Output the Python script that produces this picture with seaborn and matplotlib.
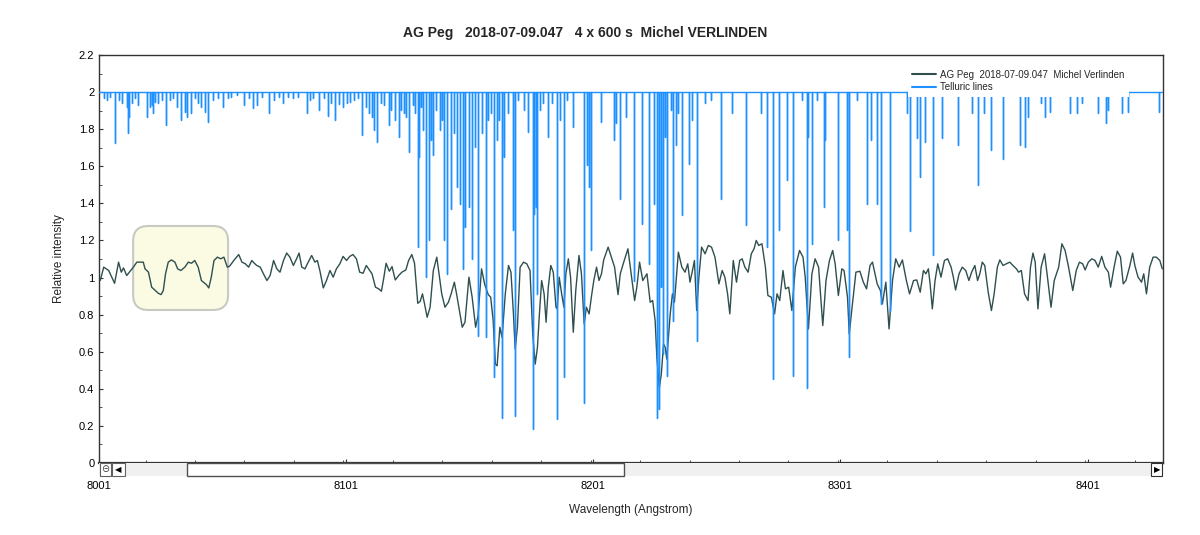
import numpy as np
import matplotlib
matplotlib.use("Agg")
import matplotlib.pyplot as plt
import seaborn as sns
from matplotlib.patches import FancyBboxPatch, Rectangle
from matplotlib.lines import Line2D
from matplotlib.ticker import MultipleLocator, FuncFormatter

# ------------------ DATA ------------------
# AG Peg spectrum (wavelength in Angstrom, relative intensity)
star_wl = [
    8001.7, 8003.1, 8005.1, 8007.5, 8009.1, 8010.2, 8011.1, 8012.4, 8015.1, 8016.5,
    8019.1, 8019.8, 8021.2, 8022.5, 8025.2, 8026.3, 8027.2, 8028.1, 8029.2, 8030.5,
    8031.9, 8033.0, 8034.3, 8035.9, 8037.3, 8038.6, 8039.9, 8041.3, 8042.6, 8044.6,
    8045.6, 8046.6, 8047.7, 8049.1, 8050.4, 8051.7, 8053.1, 8054.0,
    8055.7, 8057.7, 8059.0, 8060.4, 8061.7, 8063.0, 8064.0, 8065.0, 8066.4, 8067.7,
    8069.1, 8070.4, 8071.8, 8073.1, 8074.4, 8075.8, 8077.1, 8078.4, 8079.8, 8081.1,
    8082.1, 8083.2, 8084.5, 8085.8, 8087.2, 8088.5, 8089.5, 8090.5, 8091.9, 8093.2,
    8094.6, 8095.9, 8097.2, 8098.6, 8099.9, 8101.3, 8102.6, 8103.9, 8105.3, 8106.6,
    8108.0, 8109.3,
    8111.6, 8113.0, 8114.3, 8115.4, 8116.3, 8117.3, 8118.6, 8119.7, 8121.0, 8122.4,
    8123.7, 8125.3, 8126.4, 8127.7, 8128.8, 8130.1, 8131.1, 8132.0, 8132.8, 8133.9,
    8135.1, 8136.4, 8137.8, 8138.7, 8139.8, 8141.1, 8142.5, 8143.6, 8144.9, 8145.8,
    8147.2, 8148.1, 8149.2, 8150.8, 8152.1, 8153.5, 8154.5, 8155.9, 8157.2, 8158.6,
    8159.6, 8160.6, 8161.5, 8162.2, 8163.3, 8164.2,
    8165.5, 8166.8, 8167.8, 8168.8, 8169.5, 8170.4, 8171.5, 8172.9, 8174.2, 8175.5,
    8176.6, 8177.6, 8178.5, 8179.3, 8180.2, 8181.2, 8182.0, 8182.9, 8183.9, 8184.9,
    8186.0, 8186.5, 8187.3, 8188.3, 8189.2, 8190.0, 8191.0, 8191.9, 8193.0, 8194.0,
    8195.3, 8196.3, 8197.4, 8198.3, 8199.4, 8200.4, 8201.3, 8202.4, 8203.4, 8204.4,
    8205.3, 8207.1, 8208.4, 8209.7, 8211.1, 8212.0, 8213.4, 8215.1, 8216.4, 8217.8,
    8218.7, 8219.8,
    8221.1, 8222.8, 8224.1, 8225.1, 8226.1, 8226.8, 8227.8, 8228.6, 8229.5, 8230.2,
    8230.8, 8232.2, 8233.1, 8233.9, 8234.9, 8235.5, 8236.9, 8238.2, 8239.3, 8240.2,
    8241.2, 8242.0, 8242.9, 8243.8, 8244.9, 8246.3, 8247.6, 8248.9, 8250.3, 8251.9,
    8253.2, 8254.3, 8255.4, 8256.3, 8257.7, 8259.0, 8260.3, 8261.3, 8262.4, 8263.7,
    8265.0, 8266.1, 8267.0, 8268.0, 8269.3, 8270.7, 8271.7, 8273.1, 8274.4,
    8275.4, 8276.5, 8277.8, 8278.8, 8280.1, 8281.4, 8282.8, 8284.5, 8285.9, 8286.8,
    8288.1, 8289.5, 8290.8, 8292.2, 8293.9, 8295.2, 8296.6, 8297.9, 8298.9, 8300.2,
    8301.6, 8302.5, 8303.9, 8304.6, 8305.6, 8307.3, 8308.9, 8310.3, 8311.6, 8313.0,
    8314.0, 8315.0, 8315.9, 8317.2, 8318.0, 8319.4, 8320.7, 8322.1, 8323.4, 8324.8,
    8326.1, 8327.7, 8329.0,
    8330.6, 8331.9, 8333.3, 8334.6, 8335.6, 8336.6, 8337.3, 8338.2, 8339.3, 8340.4,
    8341.7, 8343.1, 8344.4, 8345.8, 8346.7, 8347.6, 8349.0, 8350.3, 8351.7, 8353.0,
    8354.1, 8355.4, 8356.5, 8357.4, 8358.4, 8359.4, 8360.8, 8362.1, 8363.2, 8364.5,
    8365.5, 8366.8, 8368.1, 8369.5, 8370.8, 8372.2, 8373.1, 8374.2, 8375.5, 8376.9,
    8377.9, 8378.9, 8379.8, 8380.9, 8382.2, 8383.6,
    8384.6, 8386.2, 8387.5, 8389.3, 8390.6, 8391.9, 8393.3, 8395.0, 8396.4, 8397.7,
    8399.0, 8400.0, 8401.3, 8402.7, 8404.0, 8405.3, 8406.7, 8408.0, 8409.4, 8410.3,
    8411.7, 8413.0, 8414.3, 8415.4, 8416.5, 8418.1, 8419.2, 8420.1, 8421.4, 8422.8,
    8423.7, 8424.8, 8426.1, 8427.5, 8428.8, 8430.2, 8431.2,
]
star_flux = [
    0.984, 1.056, 1.038, 0.969, 1.083, 1.029, 1.052, 1.011, 1.056, 1.083,
    1.083, 1.047, 1.029, 0.948, 0.915, 0.908, 0.930, 1.020, 1.083, 1.095,
    1.083, 1.047, 1.038, 1.056, 1.083, 1.077, 1.092, 1.056, 0.984, 0.962,
    0.944, 1.002, 1.092, 1.110, 1.101, 1.110, 1.056, 1.061,
    1.092, 1.124, 1.083, 1.074, 1.056, 1.092, 1.077, 1.065, 1.056, 1.020,
    0.984, 1.011, 1.092, 1.047, 1.029, 1.092, 1.132, 1.110, 1.065, 1.101,
    1.132, 1.056, 1.047, 1.083, 1.119, 1.083, 1.092, 1.038, 0.944, 0.984,
    1.038, 1.002, 1.047, 1.074, 1.114, 1.092, 1.114, 1.124, 1.101, 1.029,
    1.023, 1.065,
    1.020, 0.948, 0.939, 0.926, 0.993, 1.077, 1.034, 1.059, 0.987, 1.011,
    1.029, 1.041, 1.092, 1.124, 1.077, 0.861, 0.872, 0.912, 0.861, 0.786,
    0.840, 1.038, 1.110, 1.020, 0.912, 0.840, 0.867, 0.912, 0.975, 0.912,
    0.804, 0.732, 0.759, 1.002, 0.894, 0.732, 0.795, 1.047, 0.962, 0.908,
    0.894, 0.768, 0.533, 0.524, 0.732, 0.677,
    0.912, 1.065, 1.029, 0.804, 0.614, 0.732, 1.056, 1.083, 1.074, 1.038,
    0.695, 0.533, 0.623, 0.804, 0.984, 0.912, 0.759, 0.948, 1.065, 1.029,
    0.840, 0.831, 1.002, 0.912, 0.840, 1.020, 1.101, 1.002, 0.705, 0.930,
    1.119, 1.020, 0.750, 0.840, 0.804, 0.903, 0.984, 1.056, 0.984, 1.020,
    1.095, 1.164, 1.110, 1.056, 0.908, 1.020, 1.083, 1.155, 1.020, 0.876,
    0.948, 1.083,
    0.984, 1.020, 0.867, 0.876, 0.768, 0.569, 0.407, 0.479, 0.641, 0.623,
    0.560, 0.804, 0.912, 0.867, 1.038, 1.137, 1.056, 1.029, 1.074, 0.975,
    1.038, 1.092, 0.822, 1.002, 1.164, 1.128, 1.173, 1.164, 1.110, 0.966,
    1.038, 1.002, 0.912, 0.804, 1.092, 0.975, 1.092, 1.101, 1.056, 1.029,
    1.128, 1.155, 1.200, 1.173, 1.182, 1.056, 0.903, 0.894, 0.804,
    0.912, 0.876, 1.038, 0.939, 0.948, 0.822, 1.056, 1.146, 1.110, 1.002,
    0.723, 1.020, 1.101, 1.056, 0.741, 0.984, 1.092, 1.146, 1.074, 0.903,
    1.047, 1.038, 0.894, 0.695, 0.822, 1.029, 1.034, 0.975, 0.939, 1.065,
    1.083, 1.020, 0.966, 0.930, 0.858, 0.975, 0.723, 0.984, 1.101, 1.056,
    1.095, 0.984, 0.912,
    0.984, 0.987, 0.921, 1.038, 1.020, 1.047, 0.966, 0.831, 0.984, 1.074,
    1.002, 1.092, 1.101, 1.056, 1.002, 0.933, 1.020, 1.056, 1.038, 0.984,
    1.029, 1.065, 0.984, 1.020, 1.083, 1.065, 0.921, 0.822, 0.912, 1.056,
    1.095, 1.065, 1.074, 1.083, 1.065, 1.047, 1.029, 1.038, 0.912, 0.876,
    1.056, 1.132, 1.083, 0.831, 1.056, 1.128,
    1.020, 0.840, 0.984, 1.056, 1.182, 1.146, 1.056, 0.930, 1.038, 1.083,
    1.074, 1.041, 1.083, 1.101, 1.092, 1.056, 1.114, 1.056, 1.029, 0.948,
    1.056, 1.142, 1.110, 0.966, 0.984, 1.065, 1.132, 1.065, 1.002, 0.975,
    1.020, 0.912, 1.056, 1.110, 1.110, 1.092, 1.047,
]

# telluric absorption lines: centre wavelength and line bottom
tell_wl = [
    8003.1, 8004.4, 8005.7, 8007.5, 8009.1, 8010.4, 8012.4, 8012.8, 8013.5, 8014.4,
    8015.8, 8017.1, 8020.5, 8021.8, 8022.5, 8023.2, 8023.8, 8025.2, 8026.5, 8028.3,
    8029.9, 8031.2, 8032.6, 8034.3, 8035.9, 8036.6, 8038.6, 8039.9, 8041.3, 8042.6,
    8044.0, 8045.3, 8047.3, 8049.3, 8051.3, 8053.3, 8054.7,
    8057.0, 8059.7, 8061.7, 8063.4, 8065.0, 8067.1, 8070.1, 8071.8, 8073.8, 8075.8,
    8077.8, 8079.8, 8081.8, 8085.2, 8086.5, 8087.8, 8090.3, 8092.1, 8094.0, 8095.2,
    8096.6, 8098.3, 8099.9, 8101.3, 8102.6, 8104.2, 8106.0, 8107.7, 8109.3, 8110.4,
    8111.6, 8112.3, 8113.6, 8115.4, 8116.3, 8118.6, 8119.4, 8120.8, 8122.4, 8123.4,
    8124.4, 8125.3, 8126.7, 8128.0, 8129.1, 8130.1, 8130.8, 8131.5, 8132.4, 8133.5,
    8134.7, 8135.5, 8136.4, 8137.4, 8139.1, 8139.8, 8140.6, 8141.8, 8143.5, 8144.9,
    8146.0, 8147.2, 8148.2, 8149.2, 8149.4, 8150.8, 8152.1, 8153.2, 8154.3, 8155.9,
    8157.5, 8158.6, 8159.9, 8161.0, 8162.3, 8163.1, 8164.2, 8165.0,
    8166.4, 8168.8, 8169.5, 8170.8, 8172.9, 8174.5, 8176.6, 8177.2, 8178.0, 8178.5,
    8179.6, 8180.6, 8182.9, 8184.3, 8186.3, 8187.6, 8189.2, 8190.3, 8193.0, 8197.4,
    8198.6, 8199.4, 8200.3, 8204.4, 8209.3, 8210.1, 8211.8, 8214.2, 8217.4,
    8220.8, 8223.7, 8225.5, 8226.8, 8227.8, 8228.6, 8229.1, 8230.2, 8230.8, 8232.6,
    8233.5, 8234.5, 8235.5, 8236.9, 8239.6, 8240.9, 8242.9, 8246.3, 8248.7, 8252.7,
    8257.3, 8263.0, 8268.8, 8271.5, 8273.8,
    8276.1, 8279.4, 8281.9, 8285.5, 8287.7, 8288.1, 8289.5, 8291.5, 8294.2, 8294.8,
    8300.2, 8303.8, 8304.6, 8307.6, 8311.6, 8313.6, 8315.9, 8317.6, 8321.0, 8327.9,
    8329.1, 8331.9, 8333.3, 8335.3, 8338.6, 8342.0, 8348.7, 8354.1, 8356.5, 8359.2,
    8361.8, 8366.8, 8373.5, 8375.8, 8376.9, 8382.2,
    8383.9, 8385.9, 8393.7, 8396.6, 8398.6, 8405.3, 8408.4, 8409.4, 8415.1, 8417.4,
    8429.9,
]
tell_depth = [
    1.966, 1.957, 1.975, 1.723, 1.957, 1.939, 1.921, 1.777, 1.867, 1.939,
    1.966, 1.930, 1.867, 1.921, 1.930, 1.885, 1.948, 1.939, 1.957, 1.822,
    1.957, 1.966, 1.921, 1.852, 1.894, 1.867, 1.885, 1.966, 1.939, 1.921,
    1.894, 1.840, 1.957, 1.966, 1.921, 1.966, 1.975,
    1.984, 1.930, 1.966, 1.912, 1.930, 1.975, 1.888, 1.957, 1.975, 1.942,
    1.975, 1.966, 1.975, 1.885, 1.957, 1.966, 1.906, 1.966, 1.870, 1.939,
    1.849, 1.935, 1.921, 1.939, 1.948, 1.957, 1.966, 1.768, 1.921, 1.885,
    1.867, 1.795, 1.732, 1.939, 1.930, 1.822, 1.903, 1.849, 1.759, 1.903,
    1.885, 1.867, 1.677, 1.930, 1.885, 1.164, 1.650, 1.921, 1.795, 1.002,
    1.200, 1.741, 1.659, 1.903, 1.795, 1.849, 1.200, 1.020, 1.371, 1.777,
    1.488, 1.398, 1.047, 1.272, 1.605, 1.380, 1.101, 1.705, 0.686, 1.777,
    0.677, 1.849, 1.885, 0.461, 1.741, 1.849, 0.245, 1.650,
    1.885, 1.254, 0.254, 1.957, 1.903, 1.786, 0.182, 1.344, 1.380, 0.912,
    1.903, 1.939, 1.759, 1.939, 0.236, 1.849, 0.461, 1.957, 1.813, 0.326,
    1.605, 1.488, 1.146, 1.840, 1.741, 1.831, 1.425, 1.867, 0.984,
    1.290, 1.074, 1.398, 0.245, 0.290, 0.948, 0.587, 1.759, 0.470, 1.903,
    0.768, 1.714, 1.885, 1.335, 1.614, 1.849, 0.659, 1.939, 1.957, 1.425,
    1.885, 1.281, 1.885, 1.164, 0.452,
    1.254, 1.524, 0.470, 1.957, 0.407, 1.759, 1.182, 1.957, 1.380, 1.741,
    1.200, 1.254, 0.569, 1.957, 1.398, 1.741, 1.398, 0.858, 0.822, 1.885,
    1.250, 1.750, 1.542, 1.732, 1.119, 1.750, 1.714, 1.885, 1.497, 1.885,
    1.686, 1.641, 1.714, 1.705, 1.867, 1.939,
    1.867, 1.894, 1.885, 1.885, 1.939, 1.885, 1.831, 1.903, 1.885, 1.894,
    1.894,
]
tell_continuum = 2.0

x_range = (8001, 8431.6)
y_range = (0, 2.2)
x_major = [8001, 8101, 8201, 8301, 8401]

title = "AG Peg   2018-07-09.047   4 x 600 s  Michel VERLINDEN"
star_label = "AG Peg  2018-07-09.047  Michel Verlinden"
tell_label = "Telluric lines"

STAR_COLOR = "#2f4f4f"
TELL_COLOR = "#1e90ff"

# ------------------ FIGURE ------------------
sns.set_style("white")
plt.rcParams["font.family"] = ["Liberation Sans", "DejaVu Sans"]

fig = plt.figure(figsize=(12, 5.35), dpi=100)
ax = fig.add_axes([0.0821, 0.1346, 0.8873, 0.7626])

# highlighted region (rounded yellow box)
hl = FancyBboxPatch((8015.0, 0.825), 38.4, 0.453,
                    boxstyle="round,pad=0,rounding_size=6.1",
                    mutation_aspect=0.01333, fc="#fbfbe4", ec="#c9c9c4",
                    lw=1.5, zorder=1)
ax.add_patch(hl)

# stellar spectrum
sns.lineplot(x=star_wl, y=star_flux, color=STAR_COLOR, lw=1.0,
             estimator=None, ax=ax, zorder=3)

# telluric spectrum: continuum with absorption spikes
tw = np.asarray(tell_wl)
td = np.asarray(tell_depth)
order = np.argsort(tw)
tw, td = tw[order], td[order]
cont = np.full_like(td, tell_continuum)
tx = np.concatenate([[x_range[0]], np.repeat(tw, 3), [x_range[1]]])
ty = np.concatenate([[tell_continuum], np.column_stack([cont, td, cont]).ravel(), [tell_continuum]])
sns.lineplot(x=tx, y=ty, color=TELL_COLOR, lw=1.0, sort=False,
             estimator=None, ax=ax, zorder=4)

ax.set_xlim(*x_range)
ax.set_ylim(*y_range)

# ------------------ AXES ------------------
ax.set_xticks(x_major)
ax.xaxis.set_minor_locator(MultipleLocator(20))
ax.yaxis.set_major_locator(MultipleLocator(0.2))
ax.yaxis.set_minor_locator(MultipleLocator(0.1))
ax.yaxis.set_major_formatter(FuncFormatter(lambda v, p: f"{v:g}"))
ax.tick_params(which="both", direction="in", bottom=True, left=True,
               top=False, right=False, colors="#333333", labelcolor="black")
ax.tick_params(which="major", length=3, width=0.8, labelsize=8)
ax.tick_params(which="minor", length=2, width=0.6)
ax.tick_params(axis="x", which="major", pad=13)
ax.tick_params(axis="y", which="major", pad=3)
for s in ax.spines.values():
    s.set_visible(True)
    s.set_color("#333333")
    s.set_linewidth(1.0)
ax.spines["bottom"].set_linewidth(1.6)

ax.set_xlabel("Wavelength (Angstrom)", fontsize=8.5, labelpad=9)
ax.set_ylabel("Relative intensity", fontsize=8.5, labelpad=10)

fig.text(0.4875, 0.938, title, ha="center", va="center", fontsize=10,
         fontweight="bold", family=["Liberation Sans Narrow", "Liberation Sans"])

# legend with opaque white background
handles = [Line2D([], [], color=STAR_COLOR, lw=1.5),
           Line2D([], [], color=TELL_COLOR, lw=1.5)]
leg = ax.legend(handles, [star_label, tell_label], loc="upper right",
                bbox_to_anchor=(0.968, 0.975), fontsize=7.0, frameon=True,
                fancybox=False, framealpha=1, facecolor="white",
                edgecolor="none", handlelength=2.4, handletextpad=0.5,
                labelspacing=0.3, borderpad=0.45, borderaxespad=0)
leg.set_zorder(6)

# ------------------ SCROLLBAR ------------------
def fx(px):
    return (px - 98.5) / 1064.8

sb_h = 13 / 408.0
def box(x0, x1, fc, ec="none", lw=0.8):
    r = Rectangle((fx(x0), -sb_h), fx(x1) - fx(x0), sb_h, transform=ax.transAxes,
                  fc=fc, ec=ec, lw=lw, clip_on=False, zorder=5)
    ax.add_patch(r)

box(98.5, 1163.3, "#f0f0f0")
box(99.5, 111, "white", "#606060")
box(112, 125, "white", "#606060")
box(187, 624, "white", "#505050", 1.0)
box(1151, 1162.5, "white", "#303030")
ax.text(fx(105.2), -sb_h / 2, "⊝", transform=ax.transAxes, ha="center", va="center",
        fontsize=7, family="DejaVu Sans", color="#333333", clip_on=False, zorder=6)
ax.text(fx(118.5), -sb_h / 2, "◀", transform=ax.transAxes, ha="center", va="center",
        fontsize=6, family="DejaVu Sans", color="black", clip_on=False, zorder=6)
ax.text(fx(1157), -sb_h / 2, "▶", transform=ax.transAxes, ha="center", va="center",
        fontsize=6, family="DejaVu Sans", color="black", clip_on=False, zorder=6)

fig.savefig("out.png", dpi=100, facecolor="white")
